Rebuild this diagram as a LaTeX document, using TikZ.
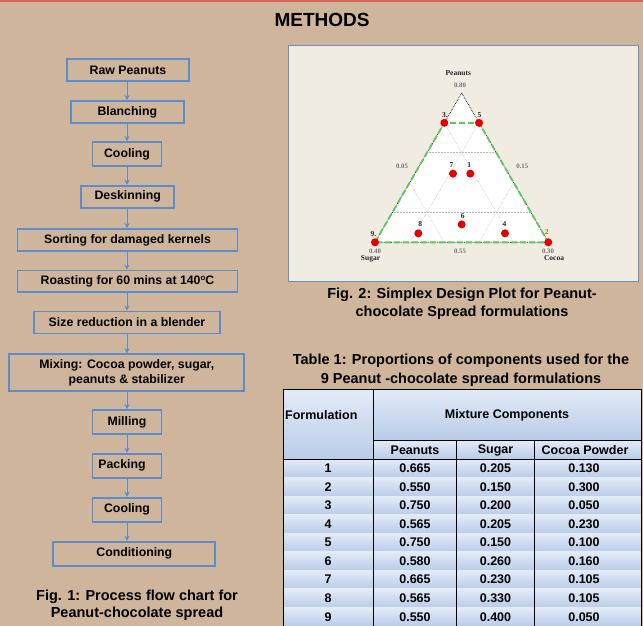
\documentclass[tikz,border=0pt]{standalone}
\usepackage{fontspec}
\setmainfont{Liberation Sans}
\newfontfamily\plotfont{Liberation Serif}
\usetikzlibrary{arrows.meta}
\definecolor{bg}{HTML}{CFB59C}
\definecolor{topred}{HTML}{D0665A}
\definecolor{boxblue}{HTML}{5B8CCB}
\definecolor{panel}{HTML}{F1ECE2}
\definecolor{panelborder}{HTML}{6B8FBF}
\definecolor{tgreen}{HTML}{5EC862}
\definecolor{dotred}{HTML}{E30000}
\definecolor{rowtop}{HTML}{E3EBF7}
\definecolor{rowbot}{HTML}{B9CCE8}
\tikzset{
  fbox/.style={draw=boxblue, line width=1.9pt, inner sep=0pt, align=center,
    font=\bfseries\fontsize{12.3}{14.5}\selectfont},
  arr/.style={draw=boxblue, line width=0.9pt, -{Stealth[length=5pt,width=5pt]}},
  captxt/.style={align=center, font=\bfseries\fontsize{14.5}{18}\selectfont},
  gridln/.style={densely dotted, gray!55, line width=0.5pt},
  pdot/.style={circle, fill=dotred, inner sep=0pt, minimum size=8pt},
  plab/.style={font=\plotfont\bfseries\fontsize{7.5}{8}\selectfont, text=black!85, inner sep=0pt},
  vlab/.style={font=\plotfont\bfseries\fontsize{6.8}{8}\selectfont, text=black!55, inner sep=0pt},
  tcell/.style={font=\bfseries\fontsize{12.5}{14}\selectfont, inner sep=0pt},
  tline/.style={draw=black, line width=0.8pt}
}
\begin{document}
\begin{tikzpicture}[x=1pt,y=-1pt]
\fill[bg] (0,0) rectangle (643,626);
\useasboundingbox (0,0) rectangle (643,626);
\fill[topred] (0,0) rectangle (643,2);

% title
\node[font=\bfseries\fontsize{19}{22}\selectfont] (title) at (322,20) {METHODS};

% ---------- flow chart ----------
\coordinate (ax) at (127,0);
\node[fbox, minimum width=122pt, minimum height=22pt] (n1) at (128,70) {Raw Peanuts};
\node[fbox, minimum width=113pt, minimum height=22pt] (n2) at (127.3,112) {Blanching};
\node[fbox, minimum width=69pt, minimum height=24pt] (n3) at (127,154) {Cooling};
\node[fbox, minimum width=93pt, minimum height=22pt] (n4) at (127.7,196.7) {Deskinning};
\node[fbox, minimum width=220pt, minimum height=22pt] (n5) at (127.5,240) {Sorting for damaged kernels};
\node[fbox, minimum width=220pt, minimum height=21.4pt] (n6) at (127.5,281.2) {Roasting for 60 mins at 140\raisebox{0.55ex}{\fontsize{8}{8}\selectfont o}C};
\node[fbox, minimum width=186pt, minimum height=22pt] (n7) at (127,322.5) {Size reduction in a blender};
\node[fbox, minimum width=235pt, minimum height=37pt] (n8) at (126.8,372.7) {Mixing: Cocoa powder, sugar,\\peanuts \& stabilizer};
\node[fbox, minimum width=69pt, minimum height=24pt] (n9) at (127,422) {Milling};
\node[fbox, minimum width=69pt, minimum height=24pt] (n10) at (127,465.7) {};
\node[font=\bfseries\fontsize{12.3}{14.5}\selectfont, inner sep=0pt] (t10) at (122,465.7) {Packing};
\node[fbox, minimum width=69pt, minimum height=24pt] (n11) at (127,509.7) {Cooling};
\node[fbox, minimum width=162pt, minimum height=24pt] (n12) at (134.3,553.7) {Conditioning};
\foreach \a/\b in {n1/n2,n2/n3,n3/n4,n4/n5,n5/n6,n6/n7,n7/n8,n8/n9,n9/n10,n10/n11,n11/n12}
  \draw[arr] (\a.south -| ax) -- (\b.north -| ax);
\node[captxt, font=\bfseries\fontsize{14.5}{16.7}\selectfont] (cap1) at (137,605) {Fig. 1: Process flow chart for\\Peanut-chocolate spread};

% ---------- simplex plot ----------
\draw[panelborder, fill=panel, line width=1pt] (288,46) rectangle (638,281);
\coordinate (A) at (461.7,93);
\coordinate (SB) at (375,242.3);
\coordinate (CB) at (548.3,242.3);
\fill[white] (A) -- (SB) -- (CB) -- cycle;
\foreach \v/\w in {0.2/0.8,0.6/0.4}{
  \draw[gridln] (barycentric cs:A=\v,SB=\w) -- (barycentric cs:A=\v,CB=\w);
  \draw[gridln] (barycentric cs:SB=\v,A=\w) -- (barycentric cs:SB=\v,CB=\w);
  \draw[gridln] (barycentric cs:CB=\v,A=\w) -- (barycentric cs:CB=\v,SB=\w);
}
\draw[densely dotted, black, line width=0.7pt] (A) -- (SB) -- (CB) -- cycle;
\coordinate (P3) at (barycentric cs:A=0.8,SB=0.2,CB=0);
\coordinate (P5) at (barycentric cs:A=0.8,SB=0,CB=0.2);
\draw[tgreen, line width=1.9pt, dash pattern=on 6pt off 3pt] (SB) -- (P3) -- (P5) -- (CB) -- cycle;
% design points
\node[pdot] (f1) at (barycentric cs:A=0.46,SB=0.22,CB=0.32) {};
\node[pdot] (f2) at (CB) {};
\node[pdot] (f3) at (P3) {};
\node[pdot] (f4) at (barycentric cs:A=0.06,SB=0.22,CB=0.72) {};
\node[pdot] (f5) at (P5) {};
\node[pdot] (f6) at (barycentric cs:A=0.12,SB=0.44,CB=0.44) {};
\node[pdot] (f7) at (barycentric cs:A=0.46,SB=0.32,CB=0.22) {};
\node[pdot] (f8) at (barycentric cs:A=0.06,SB=0.72,CB=0.22) {};
\node[pdot] (f9) at (SB) {};
\node[plab] (l1) at ([xshift=-1pt,yshift=9pt]f1) {1};
\node[plab, text=orange!80!black] (l2) at ([xshift=-1.5pt,yshift=10pt]f2) {2};
\node[plab] (l3) at ([xshift=0.5pt,yshift=8pt]f3) {3.};
\node[plab] (l4) at ([xshift=-0.5pt,yshift=9pt]f4) {4};
\node[plab] (l5) at ([xshift=0.5pt,yshift=8pt]f5) {5};
\node[plab] (l6) at ([xshift=1pt,yshift=8pt]f6) {6};
\node[plab] (l7) at ([xshift=-1.5pt,yshift=9pt]f7) {7};
\node[plab] (l8) at ([xshift=2pt,yshift=9pt]f8) {8};
\node[plab] (l9) at ([xshift=-1.5pt,yshift=8pt]f9) {9.};
\node[plab] (tP) at (458.3,73.5) {Peanuts};
\node[vlab] (tP0) at (460,85) {0.80};
\node[vlab] (tL) at (402,166.7) {0.05};
\node[vlab] (tR) at (522.3,166.7) {0.15};
\node[vlab] (tS0) at (375,251) {0.40};
\node[vlab] (tB) at (460,251) {0.55};
\node[vlab] (tC0) at (548,251) {0.30};
\node[plab] (tS) at (370.5,258.5) {Sugar};
\node[plab] (tC) at (554,258.5) {Cocoa};

\node[captxt, font=\bfseries\fontsize{14.5}{18.3}\selectfont] (cap2) at (462,304) {Fig. 2: Simplex Design Plot for Peanut-\\chocolate Spread formulations};
\node[captxt, font=\bfseries\fontsize{14.5}{19.3}\selectfont] (cap3) at (461,370) {Table 1: Proportions of components used for the\\9 Peanut -chocolate spread formulations};

% ---------- table ----------
\shade[top color=rowtop, bottom color=rowbot] (283,389) rectangle (373.3,459);
\shade[top color=rowtop, bottom color=rowbot] (373.3,389) rectangle (641,440);
\shade[top color=rowtop, bottom color=rowbot] (373.3,440) rectangle (641,459);
\foreach \i in {1,...,9}{
  \pgfmathsetmacro{\yt}{459+(\i-1)*18.56}
  \pgfmathsetmacro{\yb}{459+\i*18.56}
  \shade[top color=rowtop, bottom color=rowbot] (283,\yt) rectangle (641,\yb);
  \draw[tline] (283,\yb) -- (641,\yb);
}
\draw[tline] (283,389) -- (641,389);
\draw[tline] (373.3,440) -- (641,440);
\draw[tline] (283,459) -- (641,459);
\draw[tline] (283,389) -- (283,626);
\draw[tline] (373.3,389) -- (373.3,626);
\draw[tline] (456.7,440) -- (456.7,626);
\draw[tline] (534.3,440) -- (534.3,626);
\draw[tline] (641,389) -- (641,626);
\node[tcell, anchor=west] (hF) at (285,415) {Formulation};
\node[tcell] (hM) at (507,415) {Mixture Components};
\node[tcell] (hP) at (415,450) {Peanuts};
\node[tcell] (hS) at (495.5,450) {Sugar};
\node[tcell] (hC) at (585,450) {Cocoa Powder};
\foreach \f/\p/\s/\c [count=\i] in {1/0.665/0.205/0.130, 2/0.550/0.150/0.300, 3/0.750/0.200/0.050, 4/0.565/0.205/0.230, 5/0.750/0.150/0.100, 6/0.580/0.260/0.160, 7/0.665/0.230/0.105, 8/0.565/0.330/0.105, 9/0.550/0.400/0.050}{
  \pgfmathsetmacro{\yc}{459+(\i-0.5)*18.56}
  \node[tcell] (r\i f) at (328,\yc) {\f};
  \node[tcell] (r\i p) at (415,\yc) {\p};
  \node[tcell] (r\i s) at (495.5,\yc) {\s};
  \node[tcell] (r\i c) at (584,\yc) {\c};
}
\end{tikzpicture}
\end{document}
